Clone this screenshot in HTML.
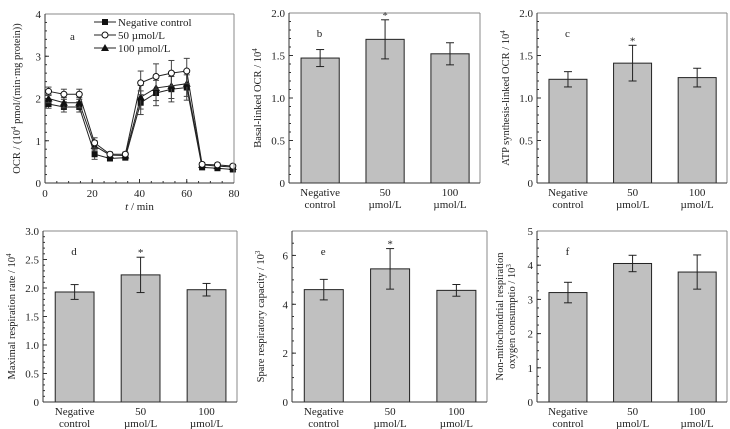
<!DOCTYPE html>
<html><head><meta charset="utf-8"><style>
body{margin:0;background:#fff}
svg{display:block;font-family:"Liberation Serif",serif}
</style></head><body>
<svg id="s" width="730" height="429"></svg>
<script>
const aTimes=[1.5,8,14.5,21,27.5,34,40.5,47,53.5,60,66.5,73,79.5];
const aNeg=[1.87,1.8,1.8,0.68,0.58,0.6,1.9,2.13,2.22,2.26,0.37,0.35,0.32];
const a50=[2.17,2.1,2.1,0.95,0.68,0.68,2.37,2.52,2.6,2.65,0.44,0.43,0.4];
const a100=[2.0,1.9,1.9,0.88,0.66,0.65,2.03,2.25,2.3,2.35,0.43,0.4,0.38];
const aErr=[0.1,0.12,0.12,0.12,0.05,0.05,0.28,0.3,0.3,0.3,0.04,0.04,0.04];
const categories=["Negative|control","50|µmol/L","100|µmol/L"];
const bVals=[1.47,1.69,1.52], bErr=[0.1,0.23,0.13];
const cVals=[1.22,1.41,1.24], cErr=[0.09,0.21,0.11];
const dVals=[1.93,2.23,1.97], dErr=[0.13,0.31,0.11];
const eVals=[4.6,5.45,4.57], eErr=[0.42,0.83,0.24];
const fVals=[3.2,4.05,3.8], fErr=[0.3,0.24,0.5];
const stars=[false,true,false];
const S=document.getElementById('s');
const NS='http://www.w3.org/2000/svg';
function el(t,a,p){const e=document.createElementNS(NS,t);for(const k in a)e.setAttribute(k,a[k]);(p||S).appendChild(e);return e;}
function txt(x,y,s,a,p){const e=el('text',Object.assign({x,y,'font-size':11,fill:'#222'},a||{}),p);e.textContent=s;return e;}
function frame(g,L,R,T,B){
  el('line',{x1:L,y1:T,x2:R,y2:T,stroke:'#888'},g);
  el('line',{x1:R,y1:T,x2:R,y2:B,stroke:'#888'},g);
  el('line',{x1:L,y1:T,x2:L,y2:B,stroke:'#333'},g);
  el('line',{x1:L,y1:B,x2:R,y2:B,stroke:'#333'},g);
}
function yAxis(g,L,T,B,max,ticks,fmt,minor){
  const y=v=>B-(v/max)*(B-T);
  ticks.forEach(v=>{el('line',{x1:L,y1:y(v),x2:L+4,y2:y(v),stroke:'#333'},g);
    const t=txt(L-4,y(v)+4,v===0?'0':fmt(v),{'text-anchor':'end'},g);
    });
  for(let v=0;v<=max+1e-9;v+=minor)el('line',{x1:L,y1:y(v),x2:L+2,y2:y(v),stroke:'#333'},g);
  return y;
}
function ylabel(g,x,cy,lines){
  lines.forEach((s,i)=>{const t=el('text',{x:0,y:0,'font-size':10.5,fill:'#222','text-anchor':'middle',transform:`translate(${x+i*12},${cy}) rotate(-90)`},g);t.innerHTML=s;});
}
function barPanel(name,letter,L,R,T,B,max,ticks,fmt,minor,vals,errs,star,lab){
  const g=el('g',{});
  
  
  const y=yAxis(g,L,T,B,max,ticks,fmt,minor);
  const W=R-L;
  vals.forEach((v,i)=>{
    const cx=L+W*(i*0.34+0.163), bw=W*0.2;
    const r=el('rect',{x:cx-bw/2,y:y(v),width:bw,height:B-y(v),fill:'#c0c0c0',stroke:'#222','stroke-width':1},g);
    
    
    const e=errs[i];
    el('line',{x1:cx,y1:y(v+e),x2:cx,y2:y(v-e),stroke:'#222'},g);
    el('line',{x1:cx-4,y1:y(v+e),x2:cx+4,y2:y(v+e),stroke:'#222'},g);
    el('line',{x1:cx-4,y1:y(v-e),x2:cx+4,y2:y(v-e),stroke:'#222'},g);
    if(star&&star[i])txt(cx,y(v+e)-1,'*',{'text-anchor':'middle'},g);
    const [l1,l2]=categories[i].split('|');
    txt(cx,B+13,l1,{'text-anchor':'middle'},g);
    txt(cx,B+25,l2,{'text-anchor':'middle'},g);
  });
  txt(L+W*0.16,T+24,letter,{'text-anchor':'middle'},g);
  frame(g,L,R,T,B);
  ylabel(g,L-(lab.length>1?34:28),(T+B)/2,lab);
}
// panel a
(function(){
  const g=el('g',{});
  
  
  const L=45,R=234,T=14,B=183;
  const x=v=>L+v/80*(R-L);
  const y=yAxis(g,L,T,B,4,[0,1,2,3,4],v=>String(v),0.2);
  [0,20,40,60,80].forEach(v=>{el('line',{x1:x(v),y1:B,x2:x(v),y2:B-4,stroke:'#333'},g);
    txt(x(v),B+14,String(v),{'text-anchor':'middle'},g);});
  for(let v=0;v<=80;v+=5)el('line',{x1:x(v),y1:B,x2:x(v),y2:B-2,stroke:'#333'},g);
  const series=[[aNeg,'sq','#111','negative-control'],[a100,'tri','#111','100-umol'],[a50,'circ','#fff','50-umol']];
  series.forEach(([d,m,f,n])=>{
    const s=el('g',{},g);
    
    
    el('polyline',{points:d.map((v,i)=>x(aTimes[i])+','+y(v)).join(' '),fill:'none',stroke:'#222','stroke-width':1},s);
    d.forEach((v,i)=>{const cx=x(aTimes[i]),cy=y(v),e=aErr[i];
      el('line',{x1:cx,y1:y(v+e),x2:cx,y2:y(v-e),stroke:'#444'},s);
      el('line',{x1:cx-3,y1:y(v+e),x2:cx+3,y2:y(v+e),stroke:'#444'},s);
      el('line',{x1:cx-3,y1:y(v-e),x2:cx+3,y2:y(v-e),stroke:'#444'},s);
      if(m==='sq')el('rect',{x:cx-3,y:cy-3,width:6,height:6,fill:'#111'},s);
      else if(m==='tri')el('polygon',{points:`${cx},${cy-4} ${cx-4},${cy+3} ${cx+4},${cy+3}`,fill:'#111'},s);
      else el('circle',{cx,cy,r:3,fill:'#fff',stroke:'#111'},s);
    });
  });
  const lg=el('g',{},g);
  
  
  const items=[['sq','Negative control'],['circ','50  µmol/L'],['tri','100  µmol/L']];
  items.forEach(([m,t],i)=>{const yy=22+i*13;
    el('line',{x1:94,y1:yy,x2:116,y2:yy,stroke:'#222'},lg);
    if(m==='sq')el('rect',{x:102,y:yy-3,width:6,height:6,fill:'#111'},lg);
    else if(m==='tri')el('polygon',{points:`105,${yy-4} 101,${yy+3} 109,${yy+3}`,fill:'#111'},lg);
    else el('circle',{cx:105,cy:yy,r:3,fill:'#fff',stroke:'#111'},lg);
    txt(118,yy+4,t,{'xml:space':'preserve'},lg);
  });
  txt(70,40,'a',{},g);
  frame(g,L,R,T,B);
  const xl=el('text',{x:x(40),y:210,'font-size':11,'text-anchor':'middle',fill:'#222'},g);
  xl.innerHTML='<tspan font-style="italic">t</tspan> / min';
  ylabel(g,20,(T+B)/2,['OCR / (10<tspan font-size="7" dy="-4">4</tspan><tspan dy="4"> pmol/(min·mg protein))</tspan>']);
})();
barPanel('b','b',289,480,13,183,2,[0,0.5,1,1.5,2],v=>v.toFixed(1),0.1,bVals,bErr,stars,['Basal-linked OCR / 10<tspan font-size="7" dy="-4">4</tspan>']);
barPanel('c','c',537,727,13,183,2,[0,0.5,1,1.5,2],v=>v.toFixed(1),0.1,cVals,cErr,stars,['ATP synthesis-linked OCR / 10<tspan font-size="7" dy="-4">4</tspan>']);
barPanel('d','d',43,237,231,402,3,[0,0.5,1,1.5,2,2.5,3],v=>v.toFixed(1),0.1,dVals,dErr,stars,['Maximal respiration rate / 10<tspan font-size="7" dy="-4">4</tspan>']);
barPanel('e','e',292,487,231,402,7,[0,2,4,6],v=>String(v),0.5,eVals,eErr,stars,['Spare respiratory capacity / 10<tspan font-size="7" dy="-4">3</tspan>']);
barPanel('f','f',537,727,231,402,5,[0,1,2,3,4,5],v=>String(v),0.25,fVals,fErr,null,['Non-mitochondrial respiration','oxygen consumptio / 10<tspan font-size="7" dy="-4">3</tspan>']);
</script>
</body></html>
